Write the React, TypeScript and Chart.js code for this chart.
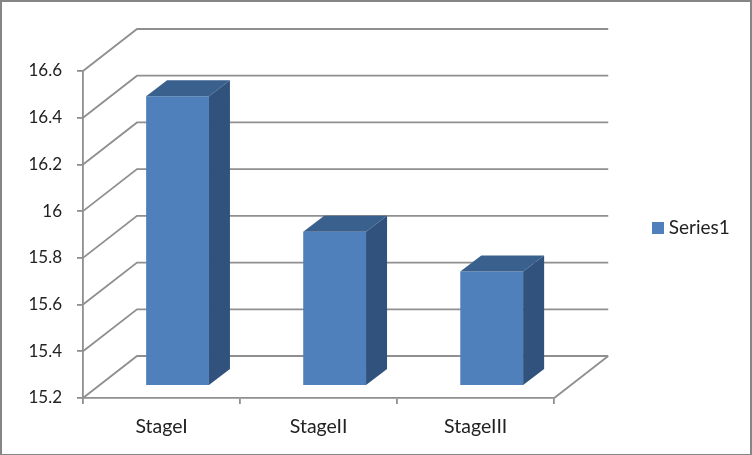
import React, { useEffect, useRef } from "react";
import { Chart, registerables } from "chart.js";

Chart.register(...registerables);

const categories = ["StageI", "StageII", "StageIII"];
const seriesName = "Series1";
const seriesValues = [16.44, 15.86, 15.69];
const yMin = 15.2;
const yMax = 16.6;
const yStep = 0.2;

const LINE = "#8f8f8f";
const TEXT = "#222222";
const FRONT = "#4f80bc";
const TOP = "#3a618e";
const SIDE = "#31527c";
const FONT = "Lato, Carlito, sans-serif";
const WALL_DX = 54;
const WALL_DY = 42;
const BAR_DX = 16;
const BAR_DY = 12;
const SIDE_DX = 21;
const SIDE_DY = 16;

function legendSwatch() {
  const c = document.createElement("canvas");
  c.width = 12;
  c.height = 12;
  const g = c.getContext("2d") as CanvasRenderingContext2D;
  g.fillStyle = FRONT;
  g.fillRect(0, 0, 12, 12);
  return c;
}

const frame3d = {
  id: "frame3d",
  beforeDraw(chart: any) {
    const { ctx, width, height } = chart;
    ctx.save();
    ctx.fillStyle = "#ffffff";
    ctx.fillRect(0, 0, width, height);
    ctx.fillStyle = "#868686";
    ctx.fillRect(0, 0, width, 2);
    ctx.fillRect(0, 0, 2, height);
    ctx.fillRect(width - 2, 0, 2, height);
    ctx.fillRect(0, height - 1, width, 1);
    ctx.restore();
  },
  beforeDatasetsDraw(chart: any) {
    const { ctx, chartArea, scales } = chart;
    ctx.save();
    ctx.strokeStyle = LINE;
    ctx.lineWidth = 1.8;
    ctx.beginPath();
    scales.y.ticks.forEach((t: any) => {
      const y = scales.y.getPixelForValue(t.value);
      ctx.moveTo(chartArea.left, y);
      ctx.lineTo(chartArea.left + WALL_DX, y - WALL_DY);
      ctx.lineTo(chartArea.right + WALL_DX, y - WALL_DY);
    });
    ctx.moveTo(chartArea.right + WALL_DX, chartArea.bottom - WALL_DY);
    ctx.lineTo(chartArea.right, chartArea.bottom);
    ctx.stroke();
    ctx.restore();
  },
  beforeDatasetDraw(chart: any) {
    chart.ctx.save();
    chart.ctx.translate(BAR_DX, -BAR_DY);
  },
  afterDatasetDraw(chart: any, args: any) {
    const { ctx } = chart;
    args.meta.data.forEach((bar: any) => {
      const { x, y, base, width } = bar.getProps(["x", "y", "base", "width"], true);
      const l = x - width / 2;
      const r = x + width / 2;
      ctx.fillStyle = TOP;
      ctx.beginPath();
      ctx.moveTo(l, y);
      ctx.lineTo(l + SIDE_DX, y - SIDE_DY);
      ctx.lineTo(r + SIDE_DX, y - SIDE_DY);
      ctx.lineTo(r, y);
      ctx.closePath();
      ctx.fill();
      ctx.fillStyle = SIDE;
      ctx.beginPath();
      ctx.moveTo(r, y);
      ctx.lineTo(r + SIDE_DX, y - SIDE_DY);
      ctx.lineTo(r + SIDE_DX, base - SIDE_DY);
      ctx.lineTo(r, base);
      ctx.closePath();
      ctx.fill();
    });
    ctx.restore();
  },
};

export default function App() {
  const ref = useRef<HTMLCanvasElement>(null);
  useEffect(() => {
    const chart = new Chart(ref.current as HTMLCanvasElement, {
      type: "bar",
      data: {
        labels: categories,
        datasets: [
          {
            label: seriesName,
            data: seriesValues,
            base: yMin,
            backgroundColor: FRONT,
            borderWidth: 0,
            barPercentage: 0.4,
            categoryPercentage: 1,
            clip: false,
          } as any,
        ],
      },
      options: {
        animation: false,
        responsive: false,
        layout: { padding: { left: 0, top: 0, bottom: 0, right: 13 } },
        plugins: {
          tooltip: { enabled: false },
          title: { display: false },
          legend: {
            display: true,
            position: "right",
            align: "center",
            labels: {
              usePointStyle: true,
              pointStyle: legendSwatch(),
              pointStyleWidth: 2,
              padding: 103,
              color: TEXT,
              font: { family: FONT, size: 19 },
            },
          },
        },
        scales: {
          x: {
            afterFit(s: any) {
              s.height = 57;
            },
            grid: {
              drawOnChartArea: false,
              drawTicks: true,
              tickLength: 6,
              color: LINE,
              lineWidth: 1.8,
            },
            border: { display: true, color: LINE, width: 1.8 },
            ticks: {
              color: TEXT,
              padding: 11,
              maxRotation: 0,
              font: { family: FONT, size: 19.5 },
            },
          },
          y: {
            min: yMin,
            max: yMax,
            afterFit(s: any) {
              s.width = 83;
              s.paddingTop = 71;
            },
            grid: {
              drawOnChartArea: false,
              drawTicks: true,
              tickLength: 6,
              color: LINE,
              lineWidth: 1.8,
            },
            border: { display: true, color: LINE, width: 1.8 },
            ticks: {
              stepSize: yStep,
              color: TEXT,
              padding: 15,
              font: { family: FONT, size: 17 },
              callback: (v: any) => String(Number(Number(v).toFixed(1))),
            },
          },
        },
      },
      plugins: [frame3d],
    } as any);
    return () => chart.destroy();
  }, []);
  return (
    <div style={{ position: "absolute", left: 0, top: 0, width: 752, height: 455 }}>
      <canvas ref={ref} width={752} height={455} style={{ display: "block" }} />
    </div>
  );
}
